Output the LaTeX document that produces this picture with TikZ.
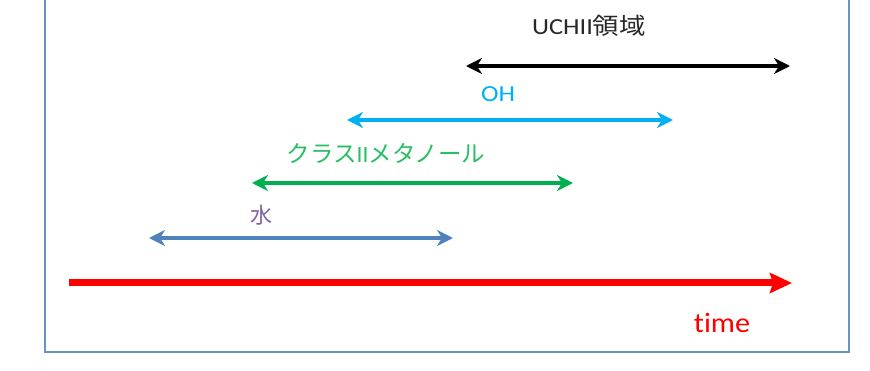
\documentclass[tikz,border=0pt]{standalone}
\usepackage{fontspec}
\setmainfont{Carlito}[Ligatures=NoCommon]
\newfontfamily\jpfont{Noto Sans CJK JP}
\usetikzlibrary{arrows.meta}
\definecolor{framecol}{RGB}{105,145,200}
\definecolor{ohcol}{RGB}{0,176,240}
\definecolor{grcol}{RGB}{0,176,80}
\definecolor{grtext}{RGB}{40,190,100}
\definecolor{bluecol}{RGB}{79,129,189}
\definecolor{purcol}{RGB}{128,100,162}
\definecolor{redcol}{RGB}{255,0,0}
\definecolor{txtcol}{RGB}{40,40,40}
\tikzset{
  dbl/.style={line width=4.5pt, {Stealth[length=16pt,width=16pt,inset=5pt]}-{Stealth[length=16pt,width=16pt,inset=5pt]}},
  lbl/.style={inner sep=0pt, anchor=base},
}
\begin{document}
\begin{tikzpicture}[x=1pt,y=-1pt]
\useasboundingbox (0,0) rectangle (870,371);
% frame
\coordinate (ftl) at (45,-5);
\coordinate (fbl) at (45,352);
\coordinate (fbr) at (849,352);
\coordinate (ftr) at (849,-5);
\draw[framecol, line width=2.5pt] (ftl) -- (fbl) -- (fbr) -- (ftr);
% endpoints
\coordinate (k1) at (466,66);  \coordinate (k2) at (790,66);
\coordinate (c1) at (347,120); \coordinate (c2) at (673,120);
\coordinate (g1) at (252,183); \coordinate (g2) at (573,183);
\coordinate (b1) at (149,238); \coordinate (b2) at (453,238);
\coordinate (r1) at (69,283);  \coordinate (r2) at (792,283);
\draw[dbl, black] (k1) -- (k2);
\draw[dbl, ohcol] (c1) -- (c2);
\draw[dbl, grcol] (g1) -- (g2);
\draw[dbl, bluecol] (b1) -- (b2);
\draw[redcol, line width=7pt, -{Stealth[length=22pt,width=20pt,inset=3pt]}] (r1) -- (r2);
% labels
\node[lbl, txtcol, font=\fontsize{23}{26}\selectfont, xscale=1.15] (uchii) at (589,35) {UCHII{\jpfont 領域}};
\node[lbl, ohcol, font=\fontsize{23}{26}\selectfont, xscale=1.15] (oh) at (498,102) {OH};
\node[inner sep=0pt, grtext, font=\fontsize{23.5}{26}\selectfont] (meth) at (386,153) {{\jpfont クラス}II{\jpfont メタノール}};
\node[inner sep=0pt, purcol, font=\fontsize{22}{26}\selectfont\jpfont] (water) at (261,215) {水};
\node[lbl, redcol, font=\fontsize{28}{30}\selectfont, xscale=1.08] (time) at (722,332) {time};
\end{tikzpicture}
\end{document}
